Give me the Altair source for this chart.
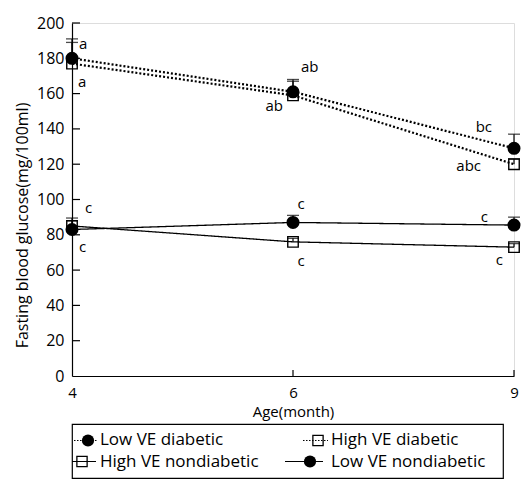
import altair as alt
import pandas as pd

FONT = "Open Sans"

# ---------------- data ----------------
ages = ["4", "6", "9"]
series_names = ["Low VE diabetic", "High VE diabetic", "High VE nondiabetic", "Low VE nondiabetic"]

low_ve_diabetic = [180, 161, 129]
high_ve_diabetic = [177, 159, 120]
high_ve_nondiabetic = [85, 76, 73]
low_ve_nondiabetic = [83, 87, 85.5]

low_ve_diabetic_err = [11, 7, 8]
high_ve_diabetic_err = [12, 8, 3]
high_ve_nondiabetic_err = [3, 2, 2]
low_ve_nondiabetic_err = [6.5, 4, 4.5]

y_ticks = [0, 20, 40, 60, 80, 100, 120, 140, 160, 180, 200]

letters = ["a", "a", "c", "c", "ab", "ab", "c", "c", "bc", "abc", "c", "c"]
letter_ages = ["4", "4", "4", "4", "6", "6", "6", "6", "9", "9", "9", "9"]
letter_levels = [188, 166.5, 95, 73, 175, 153, 97.5, 65, 141, 119, 90, 66]

# ---------------- styles (not data) ----------------
W, H = 442, 353
letter_dx = [7, 6, 13, 7, 8, -10, 8, 8, -22, -33, -26, -11]
letter_align = ["left", "left", "left", "left", "left", "right", "center", "center",
                "right", "right", "right", "right"]

series_values = [low_ve_diabetic, high_ve_diabetic, high_ve_nondiabetic, low_ve_nondiabetic]
series_errs = [low_ve_diabetic_err, high_ve_diabetic_err, high_ve_nondiabetic_err, low_ve_nondiabetic_err]
series_dash = [[2, 2], [2, 2], [1, 0], [1, 0]]
series_width = [2.2, 2.2, 1.3, 1.3]
series_shape = ["circle", "square", "square", "circle"]

rows = []
for name, vals, errs in zip(series_names, series_values, series_errs):
    for a, v, e in zip(ages, vals, errs):
        rows.append({"series": name, "age": a, "value": v, "top": v + e})
df = pd.DataFrame(rows)

xscale = alt.Scale(type="point", domain=ages, padding=0)
yscale = alt.Scale(domain=[0, 200], nice=False, zero=True)

x_axis = alt.Axis(title="Age(month)", labelAngle=0, ticks=False, labelPadding=9,
                  titlePadding=4, domainColor="black", domainWidth=1.2,
                  labelFontSize=15, titleFontSize=15, titleFontWeight="normal",
                  labelColor="black", titleColor="black", labelFont=FONT, titleFont=FONT)
y_axis = alt.Axis(title="Fasting blood glucose(mg/100ml)", values=y_ticks, ticks=False,
                  grid=False, labelPadding=8, titlePadding=6, domainColor="black",
                  domainWidth=1.2, labelFontSize=16, titleFontSize=16,
                  titleFontWeight="normal", labelColor="black", titleColor="black",
                  labelFont=FONT, titleFont=FONT, titleY=202)

X = alt.X("age:O", scale=xscale, axis=x_axis)


def Y(field):
    return alt.Y(field, scale=yscale, axis=y_axis)


layers = []
for name, dash, sw in zip(series_names, series_dash, series_width):
    layers.append(
        alt.Chart(df).transform_filter(alt.datum.series == name)
        .mark_line(color="black", strokeDash=dash, strokeWidth=sw)
        .encode(x=X, y=Y("value:Q"))
    )

# error bars (upper only)
layers.append(
    alt.Chart(df).mark_rule(color="black", strokeWidth=1.2).encode(
        x=X, y=Y("value:Q"), y2="top:Q")
)
layers.append(
    alt.Chart(df).mark_tick(color="black", size=12, thickness=1.3).encode(
        x=X, y=Y("top:Q"))
)

# markers: squares first, then circles
for name, shp in zip(series_names, series_shape):
    if shp == "square":
        layers.append(
            alt.Chart(df).transform_filter(alt.datum.series == name)
            .mark_point(shape="square", size=110, color="black", filled=False,
                        strokeWidth=1.4, opacity=1)
            .encode(x=X, y=Y("value:Q"))
        )
for name, shp in zip(series_names, series_shape):
    if shp == "circle":
        layers.append(
            alt.Chart(df).transform_filter(alt.datum.series == name)
            .mark_circle(size=170, color="black", opacity=1)
            .encode(x=X, y=Y("value:Q"))
        )

# significance letters
letters_df = pd.DataFrame({"text": letters, "age": letter_ages, "level": letter_levels})
for i in range(len(letters)):
    layers.append(
        alt.Chart(letters_df.iloc[[i]]).mark_text(
            font=FONT, fontSize=15, color="black", align=letter_align[i],
            baseline="middle", dx=letter_dx[i])
        .encode(x=X, y=Y("level:Q"), text="text:N")
    )

# inward ticks
ticks_df = pd.DataFrame({"tick": y_ticks[1:]})
layers.append(
    alt.Chart(ticks_df).mark_rule(color="black", strokeWidth=1.2).encode(
        y=Y("tick:Q"), x=alt.value(0), x2=alt.value(8))
)
xt_df = pd.DataFrame({"age": ages[1:]})
layers.append(
    alt.Chart(xt_df).mark_rule(color="black", strokeWidth=1.2).encode(
        x=X, y=alt.value(H), y2=alt.value(H - 6))
)

main = alt.layer(*layers).properties(width=W, height=H)

# ---------------- legend ----------------
LW, LH = 431, 54
leg_row = [0, 0, 1, 1]
leg_line_start = [2, 231, 0, 213]
leg_line_end = [26, 256, 24, 251]
leg_marker = [16, 246, 10, 238]
leg_text = [28, 259, 28, 259]
leg_df = pd.DataFrame({
    "label": series_names,
    "row": leg_row,
    "x0": leg_line_start,
    "x1": leg_line_end,
    "xm": leg_marker,
    "xt": leg_text,
})
lx = alt.Scale(domain=[0, LW], nice=False, zero=False)
ly = alt.Scale(type="point", domain=[0, 1], padding=0.7857)
leg_layers = []
leg_dash = [[1.5, 1.5], [1.5, 1.5], [1, 0], [1, 0]]
for name, dash, shp in zip(series_names, leg_dash, series_shape):
    d = alt.Chart(leg_df).transform_filter(alt.datum.label == name)
    leg_layers.append(
        d.mark_rule(color="black", strokeWidth=1, strokeDash=dash).encode(
            x=alt.X("x0:Q", scale=lx, axis=None), x2="x1:Q",
            y=alt.Y("row:O", scale=ly, axis=None))
    )
    if shp == "circle":
        leg_layers.append(
            d.mark_circle(size=150, color="black", opacity=1).encode(
                x=alt.X("xm:Q", scale=lx, axis=None), y=alt.Y("row:O", scale=ly, axis=None))
        )
    else:
        leg_layers.append(
            d.mark_point(shape="square", size=105, color="black", filled=False,
                         strokeWidth=1.3, opacity=1).encode(
                x=alt.X("xm:Q", scale=lx, axis=None), y=alt.Y("row:O", scale=ly, axis=None))
        )
leg_layers.append(
    alt.Chart(leg_df).mark_text(font=FONT, fontSize=17, color="black", align="left",
                                baseline="middle").encode(
        x=alt.X("xt:Q", scale=lx, axis=None), y=alt.Y("row:O", scale=ly, axis=None),
        text="label:N")
)
legend = alt.layer(*leg_layers).properties(
    width=LW, height=LH, view=alt.ViewBackground(stroke="black", strokeWidth=1.2))

chart = alt.vconcat(main, legend, spacing=3).properties(
    padding={"left": 6, "top": 6, "right": 0, "bottom": 0}
).configure_view(stroke=None).configure(background="white")

chart.save("out.html", embed_options={"renderer": "svg", "actions": False})
